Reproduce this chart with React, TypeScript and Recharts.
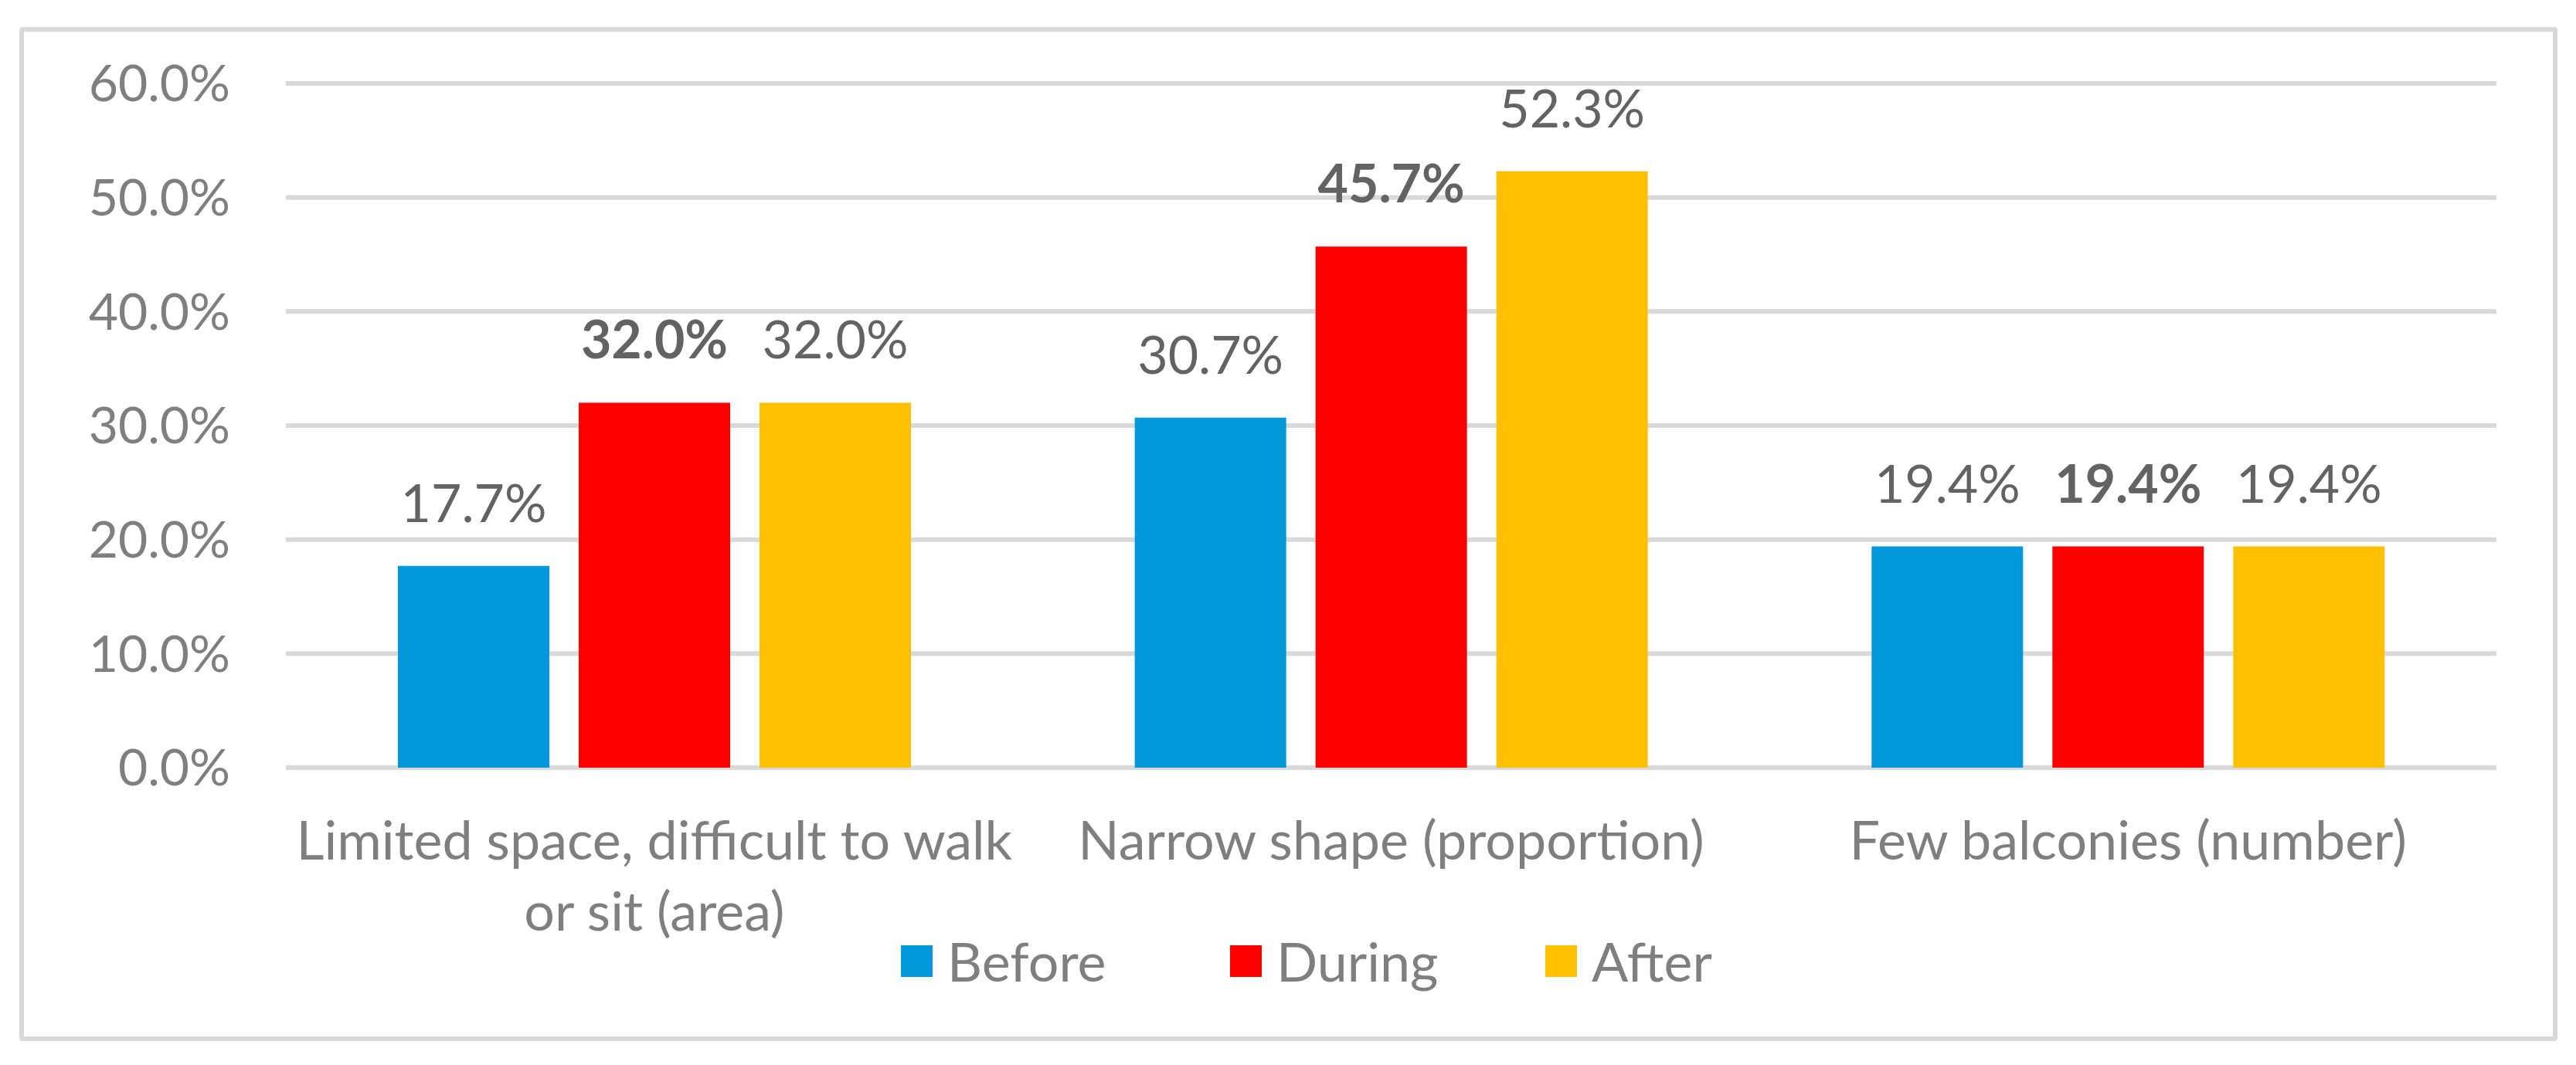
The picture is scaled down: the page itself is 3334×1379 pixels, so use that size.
import { Bar, BarChart, CartesianGrid, LabelList, Legend, XAxis, YAxis } from 'recharts'

const CATEGORIES = [
  'Limited space, difficult to walk or sit (area)',
  'Narrow shape (proportion)',
  'Few balconies (number)',
]
// tick labels as they wrap in the original
const CATEGORY_LINES = [
  ['Limited space, difficult to walk', 'or sit (area)'],
  ['Narrow shape (proportion)'],
  ['Few balconies (number)'],
]
const BEFORE = [17.7, 30.7, 19.4]
const DURING = [32.0, 45.7, 19.4]
const AFTER = [32.0, 52.3, 19.4]
const Y_TICKS = [0, 10, 20, 30, 40, 50, 60]

const SERIES = [
  { key: 'before', name: 'Before', color: '#0098DA', bold: false },
  { key: 'during', name: 'During', color: '#FF0000', bold: true },
  { key: 'after', name: 'After', color: '#FFC000', bold: false },
]

const W = 3334
const H = 1379
const FONT = 'Lato, "Open Sans", sans-serif'
const AXIS_GREY = '#7f7f7f'
const LABEL_GREY = '#636363'
// legend slot widths (square + text + gap) so the entries sit where the original has them
const LEGEND_SLOTS = [426, 408, 240]

const data = CATEGORIES.map((name, i) => ({
  name,
  before: BEFORE[i],
  during: DURING[i],
  after: AFTER[i],
}))

const pct = (v: number) => `${Number(v).toFixed(1)}%`

function CategoryTick({ x, y, index }: any) {
  const lines = CATEGORY_LINES[index] ?? []
  return (
    <text x={x} y={y} textAnchor="middle" fill={AXIS_GREY} fontFamily={FONT} fontSize={70}>
      {lines.map((l, i) => (
        <tspan key={i} x={x} y={y + 119 + i * 92}>
          {l}
        </tspan>
      ))}
    </text>
  )
}

function LegendRow() {
  return (
    <div
      style={{
        display: 'flex',
        alignItems: 'center',
        height: 60,
        paddingLeft: 1166,
        fontFamily: FONT,
        fontSize: 70,
        color: AXIS_GREY,
        lineHeight: '60px',
      }}
    >
      {SERIES.map((s, i) => (
        <div key={s.key} style={{ display: 'flex', alignItems: 'center', width: LEGEND_SLOTS[i] }}>
          <span style={{ width: 41, height: 41, background: s.color, marginRight: 19, display: 'inline-block' }} />
          <span>{s.name}</span>
        </div>
      ))}
    </div>
  )
}

export default function App() {
  return (
    <div style={{ position: 'absolute', left: 0, top: 0, width: W, height: H, background: '#fff' }}>
      <div
        style={{
          position: 'absolute',
          left: 25,
          top: 35,
          width: 3285 - 12,
          height: 1313 - 12,
          border: '6px solid #d9d9d9',
          borderRadius: 4,
        }}
      />
      <BarChart
        width={W}
        height={H}
        data={data}
        margin={{ top: 108, right: 103, bottom: 125, left: 0 }}
        barSize={196}
        barGap={38}
        style={{ position: 'absolute', left: 0, top: 0 }}
      >
        <CartesianGrid vertical={false} stroke="#d9d9d9" strokeWidth={6} />
        <XAxis
          dataKey="name"
          axisLine={false}
          tickLine={false}
          tickSize={0}
          tickMargin={0}
          height={200}
          interval={0}
          tick={<CategoryTick />}
        />
        <YAxis
          domain={[0, 60]}
          ticks={Y_TICKS}
          tickFormatter={pct}
          axisLine={false}
          tickLine={false}
          tickSize={0}
          tickMargin={72}
          width={370}
          tick={{ fill: AXIS_GREY, fontFamily: FONT, fontSize: 66 }}
        />
        <Legend content={<LegendRow />} wrapperStyle={{ top: 1214, left: 0, width: W, height: 60 }} />
        {SERIES.map((s) => (
          <Bar key={s.key} dataKey={s.key} name={s.name} fill={s.color} isAnimationActive={false}>
            <LabelList
              dataKey={s.key}
              position="top"
              offset={57}
              formatter={pct}
              fill={LABEL_GREY}
              fontFamily={FONT}
              fontSize={68}
              fontWeight={s.bold ? 700 : 400}
            />
          </Bar>
        ))}
      </BarChart>
    </div>
  )
}
